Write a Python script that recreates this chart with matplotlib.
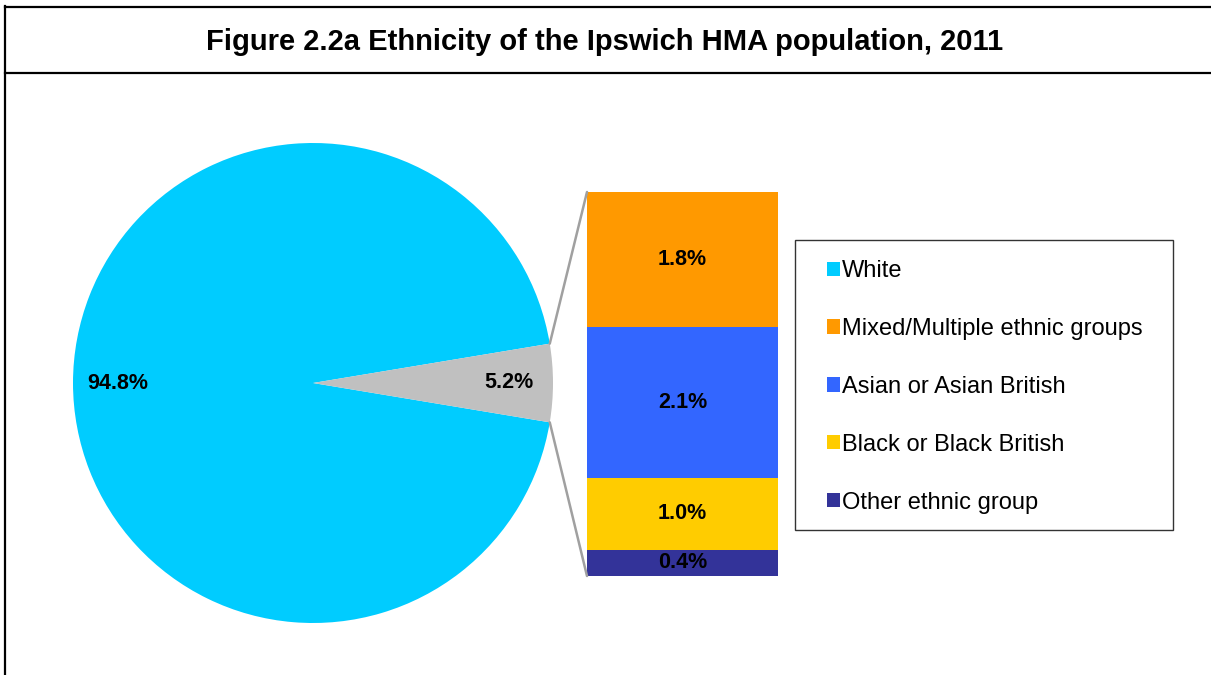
import matplotlib
matplotlib.use("Agg")
import matplotlib.pyplot as plt
import numpy as np
from matplotlib.patches import Patch, Rectangle, ConnectionPatch
from matplotlib.lines import Line2D

plt.rcParams['font.family'] = ['Liberation Sans', 'DejaVu Sans']

# data (percent of population)
pie_labels = ['White', 'Other groups']
pie_values = [94.76, 5.24]
pie_colors = ['#00CCFF', '#C0C0C0']

bar_labels = ['Other ethnic group', 'Black or Black British', 'Asian or Asian British', 'Mixed/Multiple ethnic groups']
bar_values = [0.36, 0.98, 2.06, 1.84]
bar_colors = ['#333399', '#FFCC00', '#3366FF', '#FF9900']

W, H = 1211, 675
fig = plt.figure(figsize=(W / 100, H / 100), dpi=100)


def box(x0, y0, x1, y1):
    # pixel box (top-left origin) -> figure fraction rect
    return [x0 / W, 1 - y1 / H, (x1 - x0) / W, (y1 - y0) / H]


# frame and title box
for xs, ys in [([5, 5], [6, 675]), ([5, 1211], [6.5, 6.5]), ([5, 1211], [73, 73])]:
    fig.add_artist(Line2D([x / W for x in xs], [1 - y / H for y in ys],
                          color='black', lw=1.6, transform=fig.transFigure))
fig.text(605 / W, 1 - 50 / H, 'Figure 2.2a Ethnicity of the Ipswich HMA population, 2011',
         ha='center', va='baseline', fontsize=21, fontweight='bold')

# pie
ax_pie = fig.add_axes(box(73, 143, 553, 623))
half = pie_values[1] * 3.6 / 2
wedges, texts, autotexts = ax_pie.pie(pie_values, colors=pie_colors, startangle=half,
                                      autopct='%1.1f%%', pctdistance=0.815, radius=1,
                                      textprops=dict(fontsize=15.5, fontweight='bold'))
ax_pie.set_xlim(-1, 1)
ax_pie.set_ylim(-1, 1)
ax_pie.axis('off')

# stacked bar of the small slice
ax_bar = fig.add_axes(box(587, 192, 778, 576))
bottom = 0
for val, col in zip(bar_values, bar_colors):
    ax_bar.bar(0, val, bottom=bottom, width=1, color=col)
    ax_bar.text(0, bottom + val / 2, f'{val:.1f}%', ha='center', va='center',
                fontsize=15.5, fontweight='bold')
    bottom += val
ax_bar.set_xlim(-0.5, 0.5)
ax_bar.set_ylim(0, bottom)
ax_bar.axis('off')

# connector lines
theta = np.deg2rad(half)
for sign, ybar in [(1, bottom), (-1, 0)]:
    con = ConnectionPatch(xyA=(np.cos(theta), sign * np.sin(theta)), coordsA=ax_pie.transData,
                          xyB=(-0.5, ybar), coordsB=ax_bar.transData,
                          color='#A0A0A0', lw=1.8)
    fig.add_artist(con)

# legend
fig.add_artist(Rectangle((795 / W, 1 - 530 / H), 378 / W, 290 / H, transform=fig.transFigure,
                         facecolor='none', edgecolor='#333333', lw=1.0))
handles = [Patch(facecolor=pie_colors[0], label=pie_labels[0])]
for lab, col in zip(bar_labels[::-1], bar_colors[::-1]):
    handles.append(Patch(facecolor=col, label=lab))
leg = fig.legend(handles=handles, loc='upper left', bbox_to_anchor=(827 / W, 1 - 260 / H),
                 fontsize=17, frameon=False,
                 handlelength=0.55, handleheight=0.55, handletextpad=0.1,
                 labelspacing=1.52, borderpad=0, borderaxespad=0)

fig.savefig('out.png', dpi=100, facecolor='white')
